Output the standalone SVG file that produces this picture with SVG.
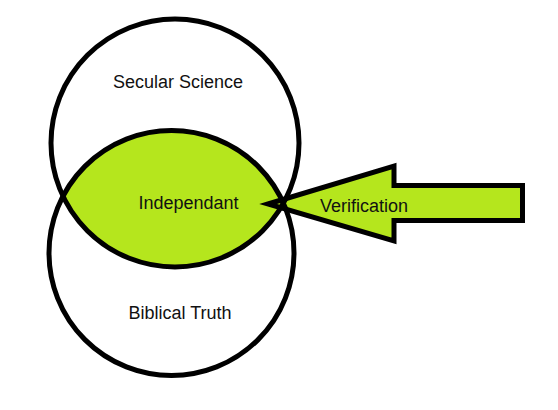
<svg xmlns="http://www.w3.org/2000/svg" width="558" height="410" viewBox="0 0 558 410">
  <style>
    .ring { fill: none; stroke: #000; stroke-width: 5; }
    .lime { fill: #b5e61d; }
    .label { font-family: "Liberation Sans", Arial, sans-serif; font-size: 18px; fill: #111; text-anchor: middle; }
  </style>
  <rect width="558" height="410" fill="#fff"/>
  <g id="independant">
    <path class="lime" d="M63,196.2 A122.5,122.5 0 0 1 283.4,203.2 A124,124 0 0 1 63,196.2 Z"/>
  </g>
  <g id="connectors">
    <g id="verification">
      <polygon class="lime" points="268,204 394,166 394,185.5 522.5,185.5 522.5,220.5 394,220.5 394,241" stroke="#000" stroke-width="5" stroke-linejoin="miter" stroke-miterlimit="12"/>
      <text class="label" x="364" y="212">Verification</text>
    </g>
  </g>
  <g id="secular-science">
    <circle class="ring" cx="175" cy="143" r="124"/>
    <text class="label" x="178" y="88">Secular Science</text>
  </g>
  <g id="biblical-truth">
    <circle class="ring" cx="171.5" cy="253" r="122.5"/>
    <text class="label" x="180" y="319">Biblical Truth</text>
  </g>
  <g id="independant-label">
    <text class="label" x="188.5" y="209" font-size="19">Independant</text>
  </g>
</svg>
